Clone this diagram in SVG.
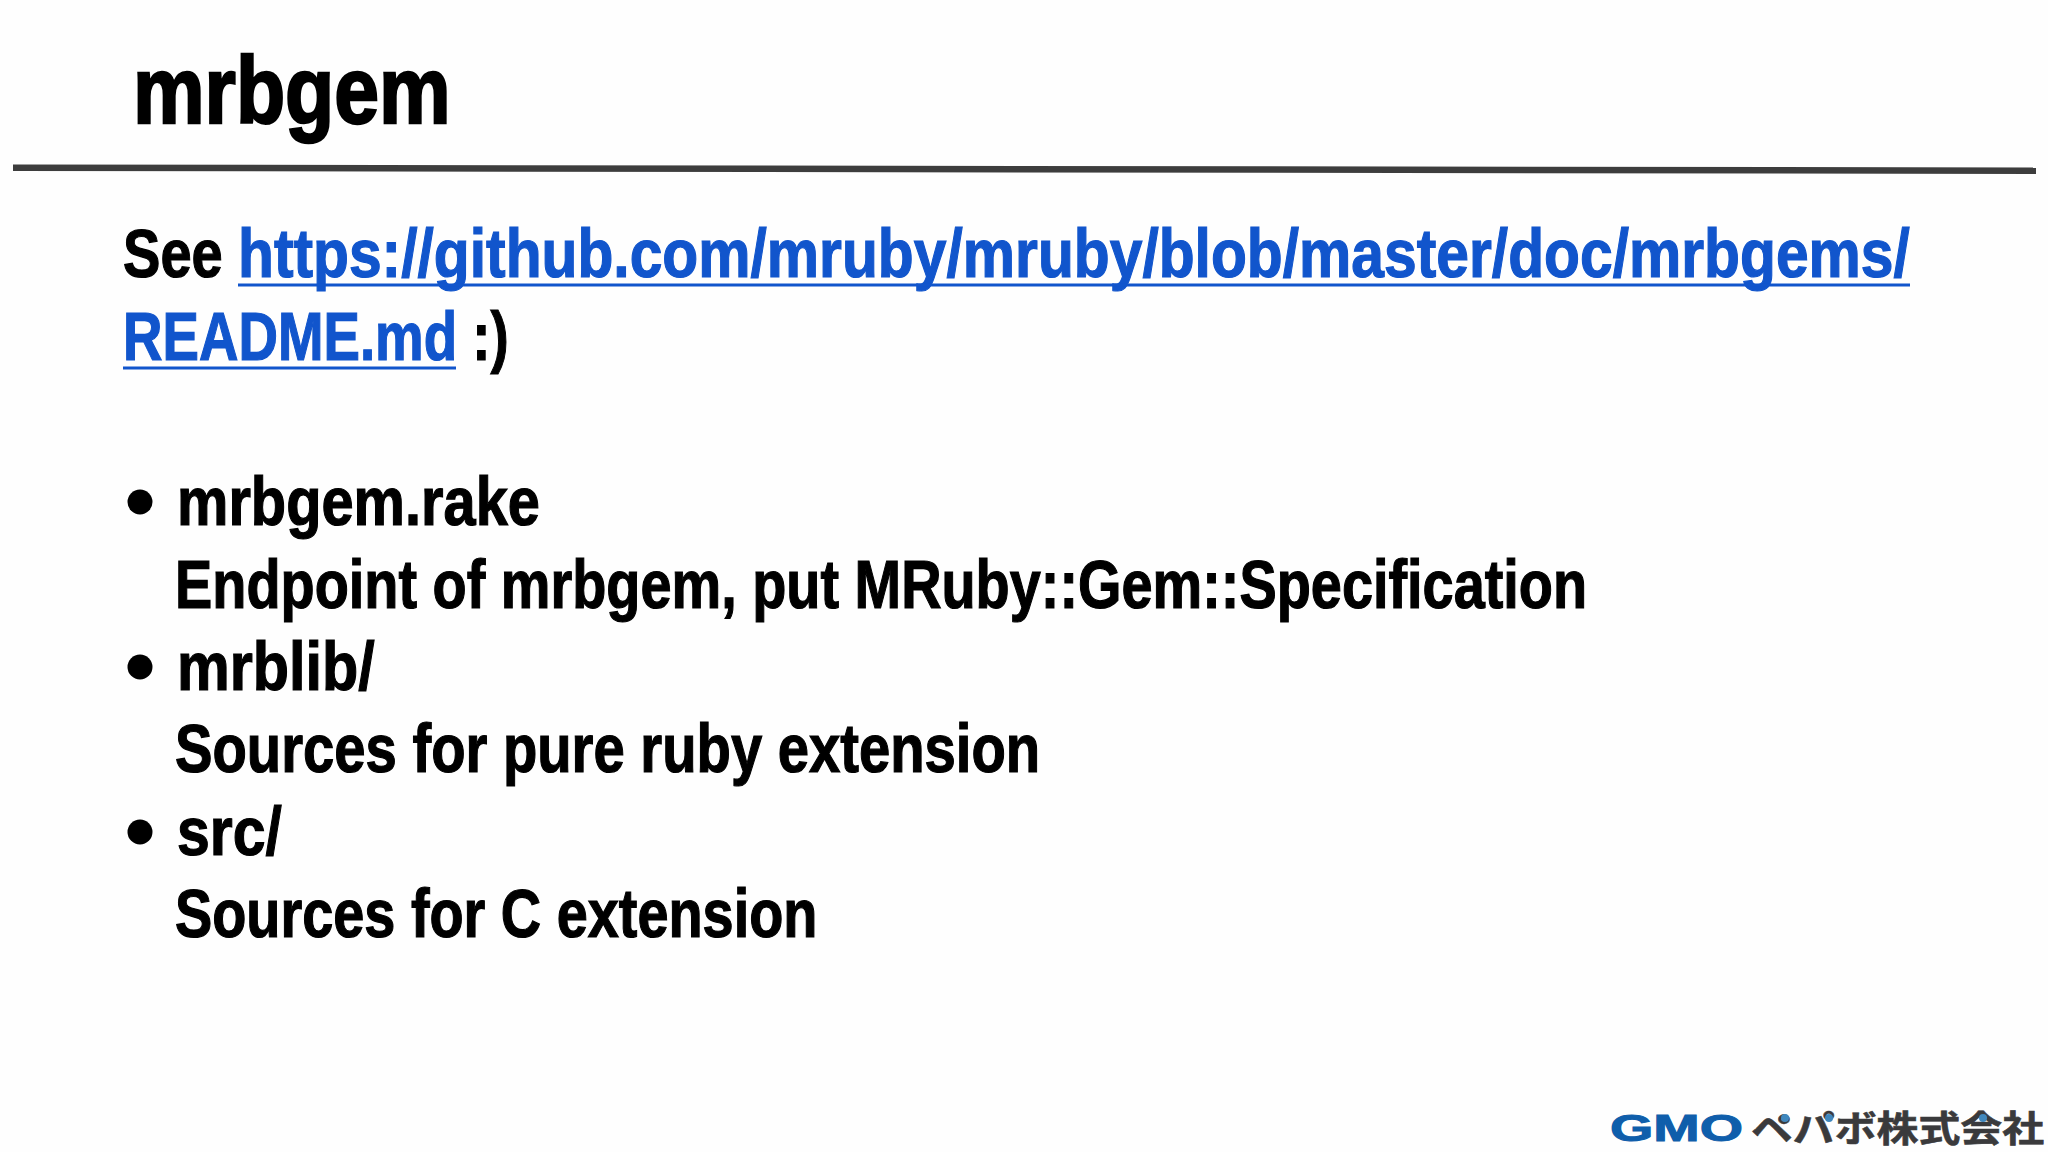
<svg xmlns="http://www.w3.org/2000/svg" width="2048" height="1152" viewBox="0 0 2048 1152">
<style>
text{font-family:"Liberation Sans",Arial,sans-serif;font-weight:700;fill:#000;stroke:#000;stroke-width:1.2;font-size:68px;paint-order:stroke}
text.l{fill:#1155cc;stroke:#1155cc}
tspan.l{fill:#1155cc;stroke:#1155cc}
text.t{font-size:95px;stroke-width:2.4}
.u{stroke:#1155cc;stroke-width:3;fill:none}
.b{fill:#000}
text.g{fill:#0f5eab;font-size:37px;stroke:#0f5eab;stroke-width:1}
text.j{font-family:"Noto Sans CJK JP","Liberation Sans",sans-serif;fill:#3a3a3c;stroke:#3a3a3c;stroke-width:.6;font-size:36px}
.d{fill:#3f87bd}
</style>
<rect width="2048" height="1152" fill="#fefefe"/>
<g id="title"><text class="t" transform="translate(133 123) scale(.88 1)" textLength="361" lengthAdjust="spacingAndGlyphs">mrbgem</text></g>
<polygon points="13,164.5 2036,167.5 2036,174 13,171" fill="#3d3d3d"/>
<g id="see">
<text transform="translate(123 277) scale(.86 1)" textLength="116" lengthAdjust="spacingAndGlyphs">See</text>
<text class="l" transform="translate(238 277) scale(.86 1)" textLength="1944" lengthAdjust="spacingAndGlyphs">https://github.com/mruby/mruby/blob/master/doc/mrbgems/</text>
<line class="u" x1="238" y1="285" x2="1910" y2="285"/>
<text transform="translate(123 360) scale(.804 1)"><tspan class="l">README.md</tspan> :)</text>
<line class="u" x1="123" y1="368" x2="456" y2="368"/>
</g>
<g id="item1">
<circle class="b" cx="140" cy="502" r="12.5"/>
<text transform="translate(177 525) scale(.86 1)" textLength="422" lengthAdjust="spacingAndGlyphs">mrbgem.rake</text>
<text transform="translate(175 608) scale(.86 1)" textLength="1642" lengthAdjust="spacingAndGlyphs">Endpoint of mrbgem, put MRuby::Gem::Specification</text>
</g>
<g id="item2">
<circle class="b" cx="140" cy="667" r="12.5"/>
<text transform="translate(177 690) scale(.86 1)" textLength="230" lengthAdjust="spacingAndGlyphs">mrblib/</text>
<text transform="translate(175 772) scale(.86 1)" textLength="1006" lengthAdjust="spacingAndGlyphs">Sources for pure ruby extension</text>
</g>
<g id="item3">
<circle class="b" cx="140" cy="832" r="12.5"/>
<text transform="translate(177 855) scale(.86 1)" textLength="122" lengthAdjust="spacingAndGlyphs">src/</text>
<text transform="translate(175 937) scale(.86 1)" textLength="747" lengthAdjust="spacingAndGlyphs">Sources for C extension</text>
</g>
<g id="logo">
<text class="g" x="1610" y="1141" textLength="133" lengthAdjust="spacingAndGlyphs">GMO</text>
<text class="j" x="1751" y="1142" textLength="293" lengthAdjust="spacingAndGlyphs">ペパボ株式会社</text>
<circle class="d" cx="1785" cy="1118" r="4"/>
<circle class="d" cx="1829" cy="1118" r="4"/>
<circle class="d" cx="1983" cy="1118" r="4"/>
</g>
</svg>
